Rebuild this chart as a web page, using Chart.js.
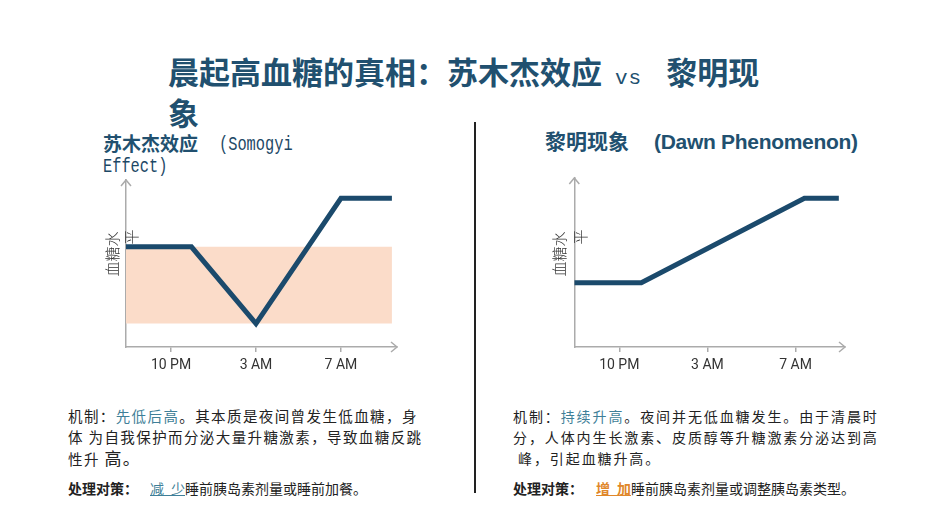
<!DOCTYPE html>
<html>
<head>
<meta charset="utf-8">
<script src="https://cdn.jsdelivr.net/npm/chart.js@4.4.1/dist/chart.umd.min.js"></script>
<style>
  html,body{margin:0;padding:0;background:#fff;}
  #slide{position:relative;width:950px;height:531px;overflow:hidden;background:#fff;font-family:"Noto Sans CJK SC",sans-serif;}
  .abs{position:absolute;white-space:nowrap;}
  #title{left:168px;top:54px;width:600px;white-space:normal;font-family:"Noto Sans CJK SC",sans-serif;font-weight:700;font-size:31px;line-height:33px;color:#21506f;}
  #title .vs{font-family:"Liberation Mono",monospace;font-weight:400;font-size:21px;letter-spacing:1px;margin:0 24px 0 13px;}
  .subL{color:#21506f;line-height:22px;}
  .subL.c{left:103px;top:132px;font-family:"Noto Sans CJK SC",sans-serif;font-weight:700;font-size:19px;}
  .subL.m{font-family:"Liberation Mono",monospace;font-size:21px;transform:scaleX(0.73);transform-origin:0 50%;color:#1d4866;}
  #subR{left:545px;top:127px;line-height:26px;color:#21506f;font-size:21px;}
  #subR .c{font-family:"Noto Sans CJK SC",sans-serif;font-weight:700;}
  #subR .l{font-family:"Liberation Sans",Arial,sans-serif;font-weight:700;letter-spacing:-0.3px;margin-left:25px;}
  .ytitle{position:absolute;font-family:"Noto Sans CJK SC",sans-serif;font-weight:300;font-size:15px;color:#333;transform:translate(-50%,-50%) rotate(-90deg);white-space:nowrap;line-height:1;}
  #divider{position:absolute;left:474px;top:122px;width:1.5px;height:371px;background:#222;}
  canvas{position:absolute;}
  .body{color:#222;}
  #mechL{left:68px;top:405px;font-size:14.5px;letter-spacing:1.4px;line-height:21px;}
  #mechR{left:513px;top:406px;font-size:14px;letter-spacing:1.9px;line-height:21px;}
  .teal{color:#3f7f98;}
  .big{font-size:17px;}
  .act{font-size:14px;}
  #actL{left:68px;top:478px;}
  #actR{left:513px;top:478px;}
  .act b{font-weight:700;}
  .u1{color:#3f7f98;text-decoration:underline;margin-left:12px;}
  .u2{color:#e0872a;text-decoration:underline;font-weight:700;margin-left:13px;}
</style>
</head>
<body>
<div id="slide">
  <div id="title" class="abs">晨起高血糖的真相：苏木杰效应<span class="vs">vs</span>黎明现象</div>

  <div class="abs subL c">苏木杰效应</div>
  <div class="abs subL m" style="left:219px;top:134px;">(Somogyi</div>
  <div class="abs subL m" style="left:103px;top:156px;">Effect)</div>
  <div id="subR" class="abs"><span class="c">黎明现象</span><span class="l">(Dawn Phenomenon)</span></div>

  <canvas id="cL" width="310" height="210" style="left:100px;top:170px;"></canvas>
  <canvas id="cR" width="310" height="212" style="left:548px;top:168px;"></canvas>

  <span class="ytitle" style="left:110.5px;top:254px;">血糖水</span>
  <span class="ytitle" style="left:130px;top:237px;">平</span>
  <span class="ytitle" style="left:558px;top:254px;">血糖水</span>
  <span class="ytitle" style="left:578.5px;top:237px;">平</span>

  <div id="divider"></div>

  <div id="mechL" class="abs body">机制：<span class="teal">先低后高</span>。其本质是夜间曾发生低血糖，身<br>体 为自我保护而分泌大量升糖激素，导致血糖反跳<br>性升 <span class="big">高。</span></div>
  <div id="actL" class="abs body act"><b>处理对策：</b><span class="u1">减&ensp;少</span>睡前胰岛素剂量或睡前加餐。</div>

  <div id="mechR" class="abs body">机制：<span class="teal">持续升高</span>。夜间并无低血糖发生。由于清晨时<br>分，人体内生长激素、皮质醇等升糖激素分泌达到高<br>&nbsp;峰，引起血糖升高。</div>
  <div id="actR" class="abs body act"><b>处理对策：</b><span class="u2">增&ensp;加</span>睡前胰岛素剂量或调整胰岛素类型。</div>
</div>

<script>
// ---- data ----
const tickPositions = [1, 2, 3];
const tickLabels = ['10 PM', '3 AM', '7 AM'];

// Somogyi effect (left)
const somogyiX = [0.47, 1.24, 2.0, 3.0, 3.6];
const somogyiY = [60, 60, 14, 89, 89];
const bandX = [0.47, 3.6];
const bandHigh = [60, 60];
const bandLow = [14, 14];

// Dawn phenomenon (right)
const dawnX = [0.49, 1.25, 3.1, 3.49];
const dawnY = [38, 38, 88, 88];

const lineColor = '#1b4a6c';
const bandColor = '#fbdcc9';
const axisColor = '#ababab';

function pts(xs, ys) { return xs.map((x, i) => ({ x: x, y: ys[i] })); }

const arrowPlugin = {
  id: 'arrows',
  afterDraw(chart) {
    const ctx = chart.ctx, a = chart.chartArea;
    ctx.save();
    ctx.strokeStyle = axisColor;
    ctx.lineWidth = 1.5;
    ctx.beginPath();
    ctx.moveTo(a.right - 6, a.bottom - 5);
    ctx.lineTo(a.right, a.bottom);
    ctx.lineTo(a.right - 6, a.bottom + 5);
    ctx.moveTo(a.left - 5, a.top + 6);
    ctx.lineTo(a.left, a.top);
    ctx.lineTo(a.left + 5, a.top + 6);
    ctx.stroke();
    ctx.restore();
  }
};

function makeChart(id, datasets, xmin, xmax, pad) {
  return new Chart(document.getElementById(id), {
    type: 'line',
    data: { datasets: datasets },
    plugins: [arrowPlugin],
    options: {
      responsive: false,
      animation: false,
      layout: { padding: pad },
      plugins: { legend: { display: false }, tooltip: { enabled: false } },
      scales: {
        x: {
          type: 'linear',
          min: xmin, max: xmax,
          afterBuildTicks: (s) => { s.ticks = tickPositions.map(v => ({ value: v })); },
          afterFit: (s) => { s.height = 33; },
          ticks: {
            padding: 5,
            color: '#333',
            font: { family: 'Roboto', size: 14 },
            callback: (v) => { const i = tickPositions.indexOf(v); return i >= 0 ? tickLabels[i] : ''; }
          },
          grid: { display: true, drawOnChartArea: false, drawTicks: true, tickLength: 5, color: axisColor, lineWidth: 1.5 },
          border: { display: true, color: axisColor, width: 1.5 }
        },
        y: {
          min: 0, max: 100,
          afterFit: (s) => { s.width = 0; },
          ticks: { display: false },
          grid: { display: false },
          border: { display: true, color: axisColor, width: 1.5 }
        }
      }
    }
  });
}

makeChart('cL', [
  { data: pts(somogyiX, somogyiY), borderColor: lineColor, borderWidth: 5, pointRadius: 0, tension: 0, borderJoinStyle: 'miter', fill: false },
  { data: pts(bandX, bandHigh), borderWidth: 0, borderColor: 'rgba(0,0,0,0)', pointRadius: 0, backgroundColor: bandColor, fill: '+1' },
  { data: pts(bandX, bandLow), borderWidth: 0, borderColor: 'rgba(0,0,0,0)', pointRadius: 0, fill: false }
], 0.47, 3.66, { left: 26, right: 13, top: 10, bottom: 0 });

makeChart('cR', [
  { data: pts(dawnX, dawnY), borderColor: lineColor, borderWidth: 5, pointRadius: 0, tension: 0, borderJoinStyle: 'miter', fill: false }
], 0.49, 3.56, { left: 26.3, right: 13, top: 10, bottom: 0 });
</script>
</body>
</html>
